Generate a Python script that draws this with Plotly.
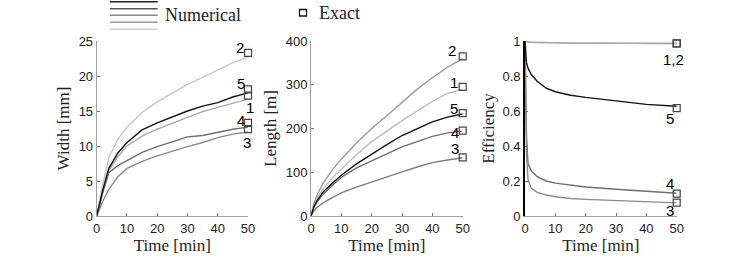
import plotly.graph_objects as go

# ---------------- data ----------------
t = [0, 1, 2, 4, 7, 10, 15, 20, 25, 30, 35, 40, 45, 50]
width = {
    "1": [0, 2.0, 3.6, 6.5, 8.5, 10.0, 11.4, 12.4, 13.3, 14.1, 14.9, 15.5, 16.2, 16.7],
    "2": [0, 2.5, 4.5, 8.3, 11.0, 12.7, 14.8, 16.3, 17.6, 18.8, 19.8, 20.9, 21.9, 22.7],
    "3": [0, 1.1, 2.1, 3.8, 5.6, 6.8, 7.8, 8.6, 9.3, 9.9, 10.5, 11.2, 11.7, 12.0],
    "4": [0, 1.8, 3.3, 6.2, 7.2, 7.9, 9.1, 9.9, 10.6, 11.3, 11.5, 12.0, 12.4, 12.7],
    "5": [0, 2.0, 3.7, 6.8, 9.0, 10.5, 12.3, 13.3, 14.2, 15.0, 15.7, 16.2, 17.0, 17.6],
}
length = {
    "1": [0, 25, 40, 62, 87, 107, 140, 170, 195, 218, 240, 262, 280, 290],
    "2": [0, 30, 48, 75, 105, 130, 167, 200, 229, 260, 290, 316, 340, 360],
    "3": [0, 12, 20, 30, 42, 53, 66, 78, 90, 101, 112, 122, 128, 133],
    "4": [0, 20, 32, 50, 70, 88, 110, 126, 142, 158, 170, 182, 190, 194],
    "5": [0, 22, 35, 55, 75, 93, 119, 142, 163, 184, 200, 215, 226, 233],
}
t_eff = [0, 0.2, 0.5, 1, 2, 4, 7, 10, 15, 20, 30, 40, 50]
efficiency = {
    "1": [1, 0.998, 0.996, 0.995, 0.993, 0.992, 0.99, 0.989, 0.988, 0.988, 0.987, 0.987, 0.986],
    "2": [1, 0.998, 0.996, 0.995, 0.993, 0.992, 0.99, 0.989, 0.988, 0.988, 0.987, 0.987, 0.986],
    "3": [1, 0.6, 0.35, 0.21, 0.16, 0.135, 0.12, 0.11, 0.1, 0.095, 0.088, 0.08, 0.075],
    "4": [1, 0.7, 0.45, 0.3, 0.26, 0.225, 0.2, 0.188, 0.177, 0.166, 0.153, 0.14, 0.13],
    "5": [1, 0.93, 0.875, 0.845, 0.81, 0.77, 0.73, 0.71, 0.69, 0.678, 0.656, 0.638, 0.627],
}
t_exact = 50
exact_width = {"1": 17.2, "2": 23.3, "3": 12.4, "4": 13.3, "5": 18.1}
exact_length = {"1": 295, "2": 365, "3": 134, "4": 195, "5": 235}
exact_eff = {"1": 0.987, "2": 0.987, "3": 0.077, "4": 0.128, "5": 0.617}

# curve-label placements: (text, pixel shift from x=50, y in data units)
labels_w = [("2", -8, 24.0), ("5", -7, 19.0), ("1", 2, 15.5), ("4", -7, 13.7), ("3", -1, 10.5)]
labels_l = [("2", -11, 379), ("1", -9, 305), ("5", -9, 245), ("4", -8, 190), ("3", -8, 154)]
labels_e = [("1,2", -3, 0.897), ("5", -7, 0.555), ("4", -7, 0.184), ("3", -7, 0.033)]

colors = {"5": "#111111", "4": "#6e6e6e", "3": "#8a8a8a", "1": "#a8a8a8", "2": "#c6c6c6"}
colors_length = {"5": "#111111", "4": "#6e6e6e", "3": "#7e7e7e", "1": "#bdbdbd", "2": "#9a9a9a"}
colors_eff = {"5": "#111111", "4": "#6e6e6e", "3": "#8a8a8a", "1": "#a8a8a8", "2": "#a8a8a8"}
order = ["2", "1", "4", "3", "5"]

W, H = 747, 265
def px_x(p): return p / W
def px_y(p): return 1 - p / H

fig = go.Figure()

panels = [
    ("x", "y", t, width, exact_width, colors),
    ("x2", "y2", t, length, exact_length, colors_length),
    ("x3", "y3", t_eff, efficiency, exact_eff, colors_eff),
]
for xa, ya, tt, data, ex, cols in panels:
    for k in order:
        fig.add_trace(go.Scatter(x=tt, y=data[k], mode="lines", xaxis=xa, yaxis=ya,
                                 line=dict(color=cols[k], width=1.4), showlegend=False,
                                 hoverinfo="skip"))
    keys = sorted(ex.keys())
    fig.add_trace(go.Scatter(x=[t_exact] * len(keys), y=[ex[k] for k in keys], mode="markers",
                             xaxis=xa, yaxis=ya, showlegend=False, cliponaxis=False,
                             hoverinfo="skip",
                             marker=dict(symbol="square-open", size=7, color="#444444",
                                         line=dict(width=1.2))))

ydom = [px_y(216), px_y(41)]
tickfont = dict(family="Liberation Sans, Arial, sans-serif", size=13, color="#222")
titlefont = dict(family="Liberation Serif, DejaVu Serif, serif", size=17, color="#222")

def xaxis(dom, anchor):
    return dict(domain=dom, anchor=anchor, range=[0, 50], tickvals=[0, 10, 20, 30, 40, 50],
                showgrid=False, zeroline=False, showline=True, linecolor="#a0a0a0", linewidth=1,
                ticks="inside", ticklen=3, tickcolor="#777", tickfont=tickfont, automargin=False,
                title=dict(text="Time [min]", font=titlefont, standoff=2))

def yaxis(anchor, rng, tv, tt, title, lc="#a0a0a0", lw=1):
    return dict(domain=ydom, anchor=anchor, range=rng, tickvals=tv, ticktext=tt, showgrid=False,
                zeroline=False, showline=True, linecolor=lc, linewidth=lw, automargin=False,
                ticks="inside", ticklen=3, tickcolor="#777", tickfont=tickfont,
                title=dict(text=title, font=titlefont, standoff=4))

yv1 = [0, 5, 10, 15, 20, 25]
yv2 = [0, 100, 200, 300, 400]
yv3 = [0, 0.2, 0.4, 0.6, 0.8, 1]
fig.update_layout(
    width=W, height=H, margin=dict(l=0, r=0, t=0, b=0, autoexpand=False),
    paper_bgcolor="white", plot_bgcolor="white", showlegend=False,
    xaxis=xaxis([px_x(96.7), px_x(248)], "y"),
    xaxis2=xaxis([px_x(311), px_x(462.7)], "y2"),
    xaxis3=xaxis([px_x(525), px_x(676.7)], "y3"),
    yaxis=yaxis("x", [0, 25], yv1, [str(v) for v in yv1], "Width [mm]"),
    yaxis2=yaxis("x2", [0, 400], yv2, [str(v) for v in yv2], "Length [m]"),
    yaxis3=yaxis("x3", [0, 1], yv3, ["0", "0.2", "0.4", "0.6", "0.8", "1"],
                 "Efficiency", lc="#000", lw=1.6),
)

annotations = []
labfont = dict(family="Liberation Sans, Arial, sans-serif", size=15, color="#000")
for xr, yr, labs in [("x", "y", labels_w), ("x2", "y2", labels_l), ("x3", "y3", labels_e)]:
    for txt, dx, ly in labs:
        annotations.append(dict(x=t_exact, y=ly, xref=xr, yref=yr, text=txt, showarrow=False,
                                xshift=dx, font=labfont, xanchor="center", yanchor="middle"))

# legend (drawn manually)
legend_colors = ["#222222", "#555555", "#888888", "#9a9a9a", "#cccccc"]
legend_y = [1.7, 8.7, 15.3, 22.3, 29.3]
shapes = []
for c, yy in zip(legend_colors, legend_y):
    shapes.append(dict(type="line", xref="paper", yref="paper", x0=px_x(110), x1=px_x(157.7),
                       y0=px_y(yy), y1=px_y(yy), line=dict(color=c, width=1.6)))
shapes.append(dict(type="rect", xref="paper", yref="paper", x0=px_x(299.5), x1=px_x(306.5),
                   y0=px_y(16), y1=px_y(9.5), line=dict(color="#111", width=1.3)))
annotations.append(dict(x=px_x(163), y=px_y(15), xref="paper", yref="paper", text="Numerical",
                        showarrow=False, xanchor="left", yanchor="middle",
                        font=dict(family="Liberation Serif, DejaVu Serif, serif", size=18, color="#222")))
annotations.append(dict(x=px_x(317), y=px_y(13), xref="paper", yref="paper", text="Exact",
                        showarrow=False, xanchor="left", yanchor="middle",
                        font=dict(family="Liberation Serif, DejaVu Serif, serif", size=18, color="#222")))
fig.update_layout(annotations=annotations, shapes=shapes)

fig.write_html("out.html", config={"displayModeBar": False},
               post_script="document.body.style.margin='0';")
